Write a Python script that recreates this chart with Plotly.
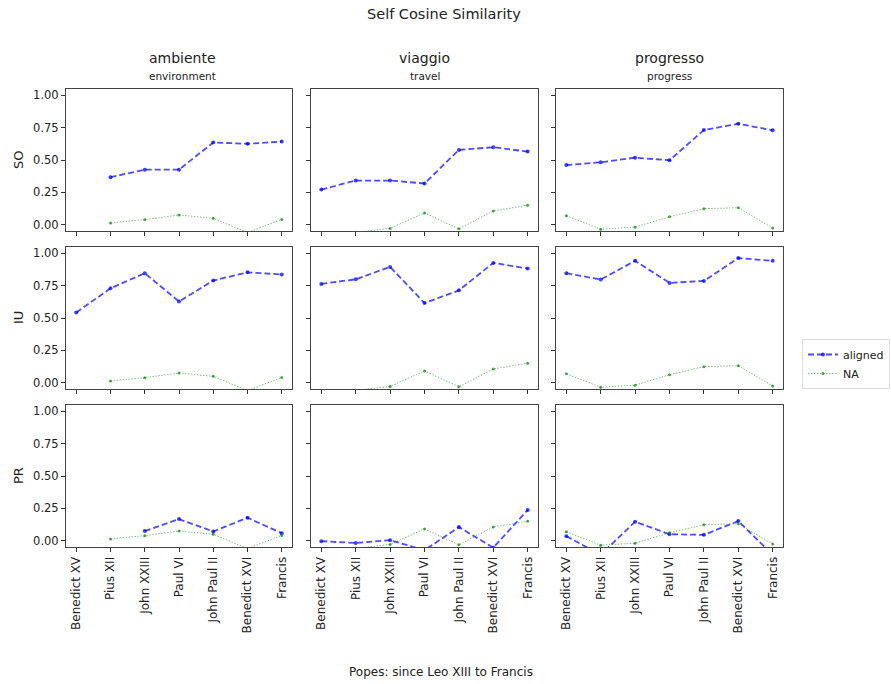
import plotly.graph_objects as go

popes = ["Benedict XV", "Pius XII", "John XXIII", "Paul VI", "John Paul II", "Benedict XVI", "Francis"]
words = ["ambiente", "viaggio", "progresso"]
translations = ["environment", "travel", "progress"]
groups = ["SO", "IU", "PR"]
y_ticks = [0.0, 0.25, 0.5, 0.75, 1.0]
y_tick_labels = ["0.00", "0.25", "0.50", "0.75", "1.00"]

aligned_ambiente_SO = [None, 0.367, 0.425, 0.425, 0.636, 0.625, 0.643]
aligned_ambiente_IU = [0.543, 0.730, 0.847, 0.628, 0.790, 0.854, 0.837]
aligned_ambiente_PR = [None, None, 0.073, 0.166, 0.070, 0.177, 0.057]
aligned_viaggio_SO = [0.271, 0.341, 0.341, 0.318, 0.578, 0.599, 0.565]
aligned_viaggio_IU = [0.764, 0.800, 0.896, 0.616, 0.714, 0.927, 0.883]
aligned_viaggio_PR = [-0.005, -0.019, 0.003, -0.075, 0.104, -0.055, 0.237]
aligned_progresso_SO = [0.461, 0.482, 0.518, 0.498, 0.732, 0.781, 0.730]
aligned_progresso_IU = [0.847, 0.798, 0.943, 0.772, 0.787, 0.964, 0.943]
aligned_progresso_PR = [0.034, -0.110, 0.146, 0.049, 0.044, 0.151, -0.110]

na_ambiente = [None, 0.012, 0.038, 0.074, 0.048, -0.062, 0.040]
na_viaggio = [None, -0.060, -0.030, 0.090, -0.033, 0.105, 0.150]
na_progresso = [0.068, -0.036, -0.020, 0.060, 0.123, 0.130, -0.027]

aligned = {
    ("ambiente", "SO"): aligned_ambiente_SO, ("ambiente", "IU"): aligned_ambiente_IU, ("ambiente", "PR"): aligned_ambiente_PR,
    ("viaggio", "SO"): aligned_viaggio_SO, ("viaggio", "IU"): aligned_viaggio_IU, ("viaggio", "PR"): aligned_viaggio_PR,
    ("progresso", "SO"): aligned_progresso_SO, ("progresso", "IU"): aligned_progresso_IU, ("progresso", "PR"): aligned_progresso_PR,
}
na = {"ambiente": na_ambiente, "viaggio": na_viaggio, "progresso": na_progresso}

W, H = 891, 684


def fx(p):
    return p / W


def fy(p):
    return 1 - p / H


col_px = [(66, 292), (311, 538), (556, 783)]
row_px = [(89, 231), (247, 389), (405, 547)]
FONT = "DejaVu Sans"

fig = go.Figure()
layout = dict(
    width=W, height=H,
    margin=dict(l=0, r=0, t=0, b=0, pad=0, autoexpand=False),
    paper_bgcolor="white", plot_bgcolor="white",
    font=dict(family=FONT, size=12, color="#222"),
    showlegend=True,
)

idx = 0
for r, g in enumerate(groups):
    for c, w in enumerate(words):
        idx += 1
        xa = "x" if idx == 1 else f"x{idx}"
        ya = "y" if idx == 1 else f"y{idx}"
        xx = list(range(len(popes)))
        fig.add_trace(go.Scatter(
            x=xx, y=aligned[(w, g)], xaxis=xa, yaxis=ya, mode="lines+markers",
            name="aligned", legendgroup="aligned", showlegend=(idx == 1),
            line=dict(color="rgba(0,0,255,0.7)", width=1.8, dash="6px,3px"),
            marker=dict(color="rgba(0,0,255,0.75)", size=4),
        ))
        fig.add_trace(go.Scatter(
            x=xx, y=na[w], xaxis=xa, yaxis=ya, mode="lines+markers",
            name="NA", legendgroup="NA", showlegend=(idx == 1),
            line=dict(color="rgba(0,128,0,0.5)", width=1, dash="1.5px,1.5px"),
            marker=dict(color="rgba(0,128,0,0.7)", size=3),
        ))
        x0, x1 = col_px[c]
        y0, y1 = row_px[r]
        xkey = "xaxis" if idx == 1 else f"xaxis{idx}"
        ykey = "yaxis" if idx == 1 else f"yaxis{idx}"
        layout[xkey] = dict(
            domain=[fx(x0), fx(x1)], anchor=ya, range=[-0.3, 6.3],
            tickmode="array", tickvals=xx, ticktext=popes,
            showticklabels=(r == 2), tickangle=-90,
            ticks="outside", ticklen=4, tickcolor="#333",
            showline=True, mirror=True, linecolor="#444", linewidth=1,
            showgrid=False, zeroline=False, tickfont=dict(size=12, color="#222"),
        )
        layout[ykey] = dict(
            domain=[fy(y1), fy(y0)], anchor=xa, range=[-0.05, 1.05],
            tickmode="array", tickvals=y_ticks, ticktext=y_tick_labels,
            showticklabels=(c == 0),
            ticks="outside", ticklen=4, tickcolor="#333",
            showline=True, mirror=True, linecolor="#444", linewidth=1,
            showgrid=False, zeroline=False, tickfont=dict(size=11.5, color="#222"),
        )

annotations = [
    dict(text="Self Cosine Similarity", x=fx(444), y=fy(14), xref="paper", yref="paper",
         showarrow=False, font=dict(size=14.5, color="#222"), xanchor="center", yanchor="middle"),
    dict(text="Popes: since Leo XIII to Francis", x=fx(441), y=fy(672), xref="paper", yref="paper",
         showarrow=False, font=dict(size=12, color="#222"), xanchor="center", yanchor="middle"),
]
title_x = [182, 424.5, 669.5]
for c, (w, t) in enumerate(zip(words, translations)):
    xc = fx(title_x[c])
    annotations.append(dict(text=w, x=xc, y=fy(58), xref="paper", yref="paper", showarrow=False,
                            font=dict(size=14, color="#222"), xanchor="center", yanchor="middle"))
    annotations.append(dict(text=t, x=xc, y=fy(76), xref="paper", yref="paper", showarrow=False,
                            font=dict(size=10.5, color="#222"), xanchor="center", yanchor="middle"))
for r, g in enumerate(groups):
    yc = fy((row_px[r][0] + row_px[r][1]) / 2)
    annotations.append(dict(text=g, x=fx(18), y=yc, xref="paper", yref="paper", showarrow=False,
                            textangle=-90, font=dict(size=13, color="#222"), xanchor="center", yanchor="middle"))
layout["annotations"] = annotations
layout["legend"] = dict(
    x=fx(802), y=fy(339), xanchor="left", yanchor="top",
    bordercolor="#ddd", borderwidth=1, bgcolor="white",
    font=dict(size=11, color="#222"), itemwidth=30, tracegroupgap=0,
)
fig.update_layout(**layout)
fig.write_html(
    "out.html",
    config={"displayModeBar": False},
    post_script="document.body.style.margin='0';document.body.style.overflow='hidden';",
)
